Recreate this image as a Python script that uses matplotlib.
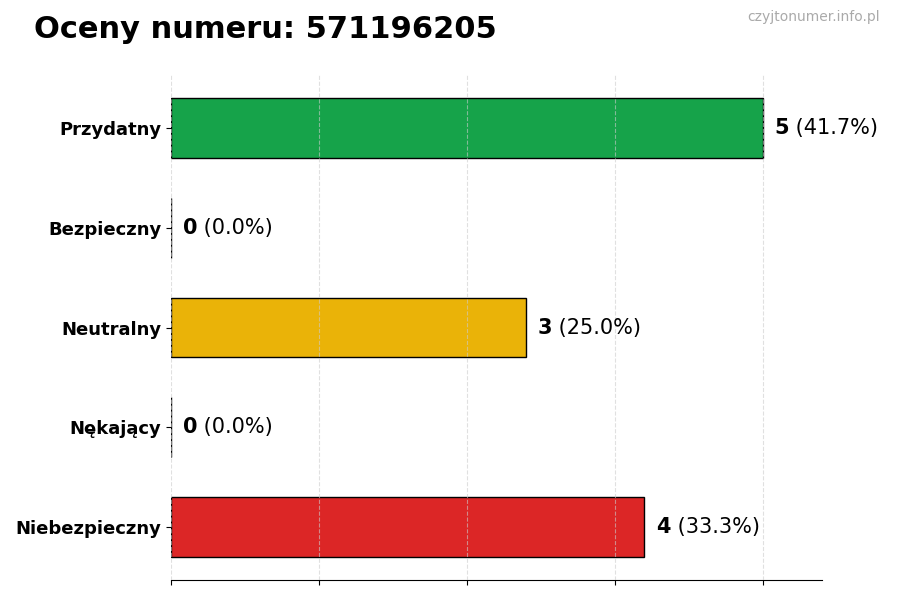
import matplotlib
matplotlib.use("Agg")
import matplotlib.pyplot as plt

categories = ["Przydatny", "Bezpieczny", "Neutralny", "Nękający", "Niebezpieczny"]
values = [5, 0, 3, 0, 4]
colors = ["#16a34a", "#94a3b8", "#eab308", "#f97316", "#dc2626"]
title = "Oceny numeru: 571196205"
watermark = "czyjtonumer.info.pl"

total = sum(values)
fig = plt.figure(figsize=(9, 6), dpi=100)
ax = fig.add_axes([0.19, 0.0333, 0.7233, 0.8417])

ypos = list(range(len(categories)))
ax.barh(ypos, values, height=0.6, color=colors, edgecolor="black", linewidth=1, zorder=2)
ax.invert_yaxis()
ax.set_yticks(ypos)
ax.set_yticklabels(categories, fontsize=13, fontweight="bold")
ax.set_xlim(0, 5.5)
ax.set_xticks([0, 1.25, 2.5, 3.75, 5])
ax.set_xticklabels([])
ax.set_axisbelow(False)
ax.grid(axis="x", linestyle="--", color="#cccccc", alpha=0.6, linewidth=0.8)
for s in ["top", "right", "left"]:
    ax.spines[s].set_visible(False)

for y, v in zip(ypos, values):
    pct = 100 * v / total if total else 0
    t = ax.text(v + 0.1, y, str(v), fontsize=15, fontweight="bold", va="center", ha="left")
    ax.annotate(f" ({pct:.1f}%)", xy=(1, 0), xycoords=t, va="bottom", ha="left", fontsize=15)

fig.text(0.038, 0.95, title, fontsize=22, fontweight="bold", ha="left", va="center")
fig.text(0.978, 0.972, watermark, fontsize=10, color="#aaaaaa", ha="right", va="center")

fig.savefig("out.png", dpi=100)
